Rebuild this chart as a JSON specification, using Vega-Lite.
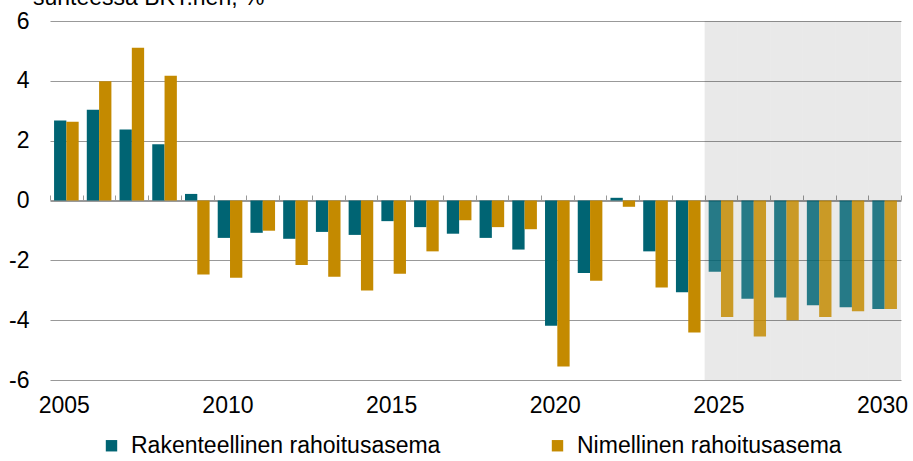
{
  "$schema": "https://vega.github.io/schema/vega-lite/v6.json",
  "width": 851,
  "height": 359,
  "autosize": {"type": "none"},
  "padding": {"left": 50, "top": 21, "right": 12, "bottom": 81},
  "background": "white",
  "config": {
    "font": "Liberation Sans",
    "view": {"stroke": null}
  },
  "title": {
    "text": "suhteessa BKT:hen, %",
    "anchor": "start",
    "frame": "group",
    "fontSize": 23,
    "fontWeight": "normal",
    "color": "#000000",
    "baseline": "alphabetic",
    "offset": 0,
    "dy": 18,
    "dx": -17
  },
  "datasets": {
    "main": [
      {"year": 2005, "series": "Rakenteellinen rahoitusasema", "value": 2.67},
      {"year": 2005, "series": "Nimellinen rahoitusasema", "value": 2.63},
      {"year": 2006, "series": "Rakenteellinen rahoitusasema", "value": 3.03},
      {"year": 2006, "series": "Nimellinen rahoitusasema", "value": 3.99},
      {"year": 2007, "series": "Rakenteellinen rahoitusasema", "value": 2.37},
      {"year": 2007, "series": "Nimellinen rahoitusasema", "value": 5.11},
      {"year": 2008, "series": "Rakenteellinen rahoitusasema", "value": 1.88},
      {"year": 2008, "series": "Nimellinen rahoitusasema", "value": 4.17},
      {"year": 2009, "series": "Rakenteellinen rahoitusasema", "value": 0.22},
      {"year": 2009, "series": "Nimellinen rahoitusasema", "value": -2.47},
      {"year": 2010, "series": "Rakenteellinen rahoitusasema", "value": -1.25},
      {"year": 2010, "series": "Nimellinen rahoitusasema", "value": -2.58},
      {"year": 2011, "series": "Rakenteellinen rahoitusasema", "value": -1.08},
      {"year": 2011, "series": "Nimellinen rahoitusasema", "value": -1.01},
      {"year": 2012, "series": "Rakenteellinen rahoitusasema", "value": -1.28},
      {"year": 2012, "series": "Nimellinen rahoitusasema", "value": -2.16},
      {"year": 2013, "series": "Rakenteellinen rahoitusasema", "value": -1.05},
      {"year": 2013, "series": "Nimellinen rahoitusasema", "value": -2.55},
      {"year": 2014, "series": "Rakenteellinen rahoitusasema", "value": -1.15},
      {"year": 2014, "series": "Nimellinen rahoitusasema", "value": -3.01},
      {"year": 2015, "series": "Rakenteellinen rahoitusasema", "value": -0.69},
      {"year": 2015, "series": "Nimellinen rahoitusasema", "value": -2.45},
      {"year": 2016, "series": "Rakenteellinen rahoitusasema", "value": -0.89},
      {"year": 2016, "series": "Nimellinen rahoitusasema", "value": -1.70},
      {"year": 2017, "series": "Rakenteellinen rahoitusasema", "value": -1.11},
      {"year": 2017, "series": "Nimellinen rahoitusasema", "value": -0.66},
      {"year": 2018, "series": "Rakenteellinen rahoitusasema", "value": -1.25},
      {"year": 2018, "series": "Nimellinen rahoitusasema", "value": -0.89},
      {"year": 2019, "series": "Rakenteellinen rahoitusasema", "value": -1.64},
      {"year": 2019, "series": "Nimellinen rahoitusasema", "value": -0.96},
      {"year": 2020, "series": "Rakenteellinen rahoitusasema", "value": -4.19},
      {"year": 2020, "series": "Nimellinen rahoitusasema", "value": -5.55},
      {"year": 2021, "series": "Rakenteellinen rahoitusasema", "value": -2.42},
      {"year": 2021, "series": "Nimellinen rahoitusasema", "value": -2.68},
      {"year": 2022, "series": "Rakenteellinen rahoitusasema", "value": 0.09},
      {"year": 2022, "series": "Nimellinen rahoitusasema", "value": -0.21},
      {"year": 2023, "series": "Rakenteellinen rahoitusasema", "value": -1.70},
      {"year": 2023, "series": "Nimellinen rahoitusasema", "value": -2.91},
      {"year": 2024, "series": "Rakenteellinen rahoitusasema", "value": -3.07},
      {"year": 2024, "series": "Nimellinen rahoitusasema", "value": -4.41},
      {"year": 2025, "series": "Rakenteellinen rahoitusasema", "value": -2.38},
      {"year": 2025, "series": "Nimellinen rahoitusasema", "value": -3.89},
      {"year": 2026, "series": "Rakenteellinen rahoitusasema", "value": -3.28},
      {"year": 2026, "series": "Nimellinen rahoitusasema", "value": -4.55},
      {"year": 2027, "series": "Rakenteellinen rahoitusasema", "value": -3.24},
      {"year": 2027, "series": "Nimellinen rahoitusasema", "value": -4.0},
      {"year": 2028, "series": "Rakenteellinen rahoitusasema", "value": -3.5},
      {"year": 2028, "series": "Nimellinen rahoitusasema", "value": -3.89},
      {"year": 2029, "series": "Rakenteellinen rahoitusasema", "value": -3.57},
      {"year": 2029, "series": "Nimellinen rahoitusasema", "value": -3.7},
      {"year": 2030, "series": "Rakenteellinen rahoitusasema", "value": -3.63},
      {"year": 2030, "series": "Nimellinen rahoitusasema", "value": -3.63}
    ],
    "forecast": [
      {"year": 2025}, {"year": 2026}, {"year": 2027}, {"year": 2028}, {"year": 2029}, {"year": 2030}
    ]
  },
  "layer": [
    {
      "data": {"name": "forecast"},
      "mark": {"type": "bar", "color": "#000000", "opacity": 0.087, "strokeWidth": 0},
      "encoding": {
        "x": {"field": "year", "type": "ordinal"},
        "y": {"datum": 6, "type": "quantitative"},
        "y2": {"datum": -6}
      }
    },
    {
      "data": {"name": "main"},
      "mark": {"type": "bar", "strokeWidth": 0},
      "encoding": {
        "x": {
          "field": "year",
          "type": "ordinal",
          "scale": {"paddingInner": 0, "paddingOuter": 0},
          "axis": {
            "title": null,
            "offset": -180,
            "domainColor": "#999999",
            "domainWidth": 1,
            "tickBand": "extent",
            "tickSize": -5,
            "tickColor": "#999999",
            "labelAngle": 0,
            "labelFontSize": 23,
            "labelColor": "#000000",
            "labelPadding": 210,
            "labelOffset": 23,
            "labelExpr": "datum.value % 5 == 0 ? datum.label : ''",
            "labelOverlap": false,
            "labelBound": false,
            "labelFlush": false,
            "grid": false
          }
        },
        "xOffset": {
          "field": "series",
          "type": "nominal",
          "sort": ["Rakenteellinen rahoitusasema", "Nimellinen rahoitusasema"],
          "scale": {"paddingInner": 0, "paddingOuter": 0.33}
        },
        "y": {
          "field": "value",
          "type": "quantitative",
          "scale": {"domain": [-6, 6], "nice": false, "zero": false},
          "axis": {
            "title": null,
            "values": [-6, -4, -2, 0, 2, 4, 6],
            "domain": false,
            "ticks": false,
            "grid": true,
            "gridColor": "#999999",
            "gridWidth": 1,
            "labelFontSize": 23,
            "labelColor": "#000000",
            "labelPadding": 21,
            "labelExpr": "datum.value < 0 ? '-' + abs(datum.value) : '' + datum.value"
          }
        },
        "color": {
          "field": "series",
          "type": "nominal",
          "sort": ["Rakenteellinen rahoitusasema", "Nimellinen rahoitusasema"],
          "scale": {
            "domain": ["Rakenteellinen rahoitusasema", "Nimellinen rahoitusasema"],
            "range": ["#006473", "#C48A00"]
          },
          "legend": {
            "title": null,
            "orient": "none",
            "legendX": 50,
            "legendY": 413,
            "direction": "horizontal",
            "symbolType": "square",
            "symbolSize": 130,
            "symbolStrokeWidth": 0,
            "labelFontSize": 23,
            "labelColor": "#000000",
            "labelOffset": 8,
            "columnPadding": 105,
            "labelLimit": 0
          }
        },
        "opacity": {
          "condition": {"test": "datum.year >= 2025", "value": 0.84},
          "value": 1
        }
      }
    }
  ]
}
